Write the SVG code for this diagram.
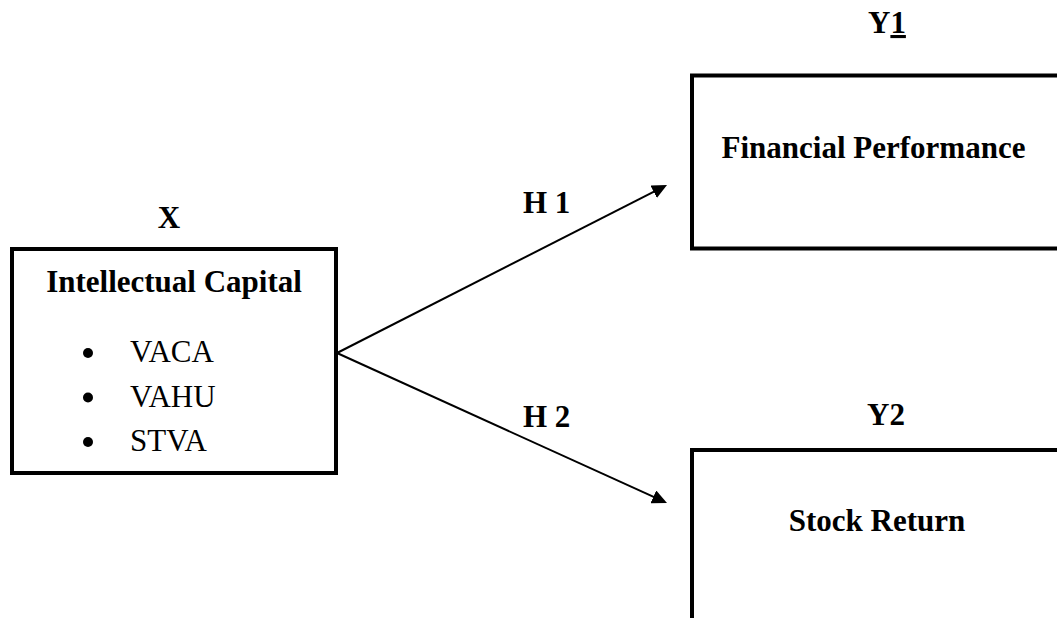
<svg xmlns="http://www.w3.org/2000/svg" width="1057" height="618" viewBox="0 0 1057 618">
  <style>
    .box { fill: #ffffff; stroke: #000000; stroke-width: 4; }
    .lbl { font-family: "Liberation Serif", "Times New Roman", serif; font-size: 31px; fill: #000000; }
    .b { font-weight: bold; }
    .conn { stroke: #000000; stroke-width: 2; fill: none; }
  </style>
  <defs>
    <marker id="arrow" markerUnits="userSpaceOnUse" markerWidth="15" markerHeight="14" refX="7" refY="7" orient="auto">
      <path d="M0,0 L15,7 L0,14 z" fill="#000000"/>
    </marker>
  </defs>
  <rect width="1057" height="618" fill="#ffffff"/>

  <g id="node-x">
    <text class="lbl b" x="169" y="228" text-anchor="middle">X</text>
    <rect class="box" x="12" y="249" width="324" height="224"/>
    <text class="lbl b" x="174" y="292" text-anchor="middle">Intellectual Capital</text>
    <circle cx="88" cy="353" r="5"/>
    <circle cx="88" cy="397.5" r="5"/>
    <circle cx="88" cy="442" r="5"/>
    <text class="lbl" x="130" y="362">VACA</text>
    <text class="lbl" x="130" y="406.5">VAHU</text>
    <text class="lbl" x="130" y="451">STVA</text>
  </g>

  <g id="node-y1">
    <text class="lbl b" x="868" y="33">Y<tspan text-decoration="underline">1</tspan></text>
    <rect class="box" x="692" y="75.5" width="400" height="173"/>
    <text class="lbl b" x="873.5" y="158" text-anchor="middle">Financial Performance</text>
  </g>

  <g id="node-y2">
    <text class="lbl b" x="867" y="425">Y2</text>
    <rect class="box" x="692" y="450" width="400" height="220"/>
    <text class="lbl b" x="877" y="531" text-anchor="middle">Stock Return</text>
  </g>

  <g id="connectors">
    <line class="conn" x1="337" y1="353" x2="659.9" y2="188.6" marker-end="url(#arrow)"/>
    <line class="conn" x1="337" y1="353" x2="659.7" y2="499.7" marker-end="url(#arrow)"/>
    <text class="lbl b" x="523" y="213">H 1</text>
    <text class="lbl b" x="523" y="427">H 2</text>
  </g>
</svg>
